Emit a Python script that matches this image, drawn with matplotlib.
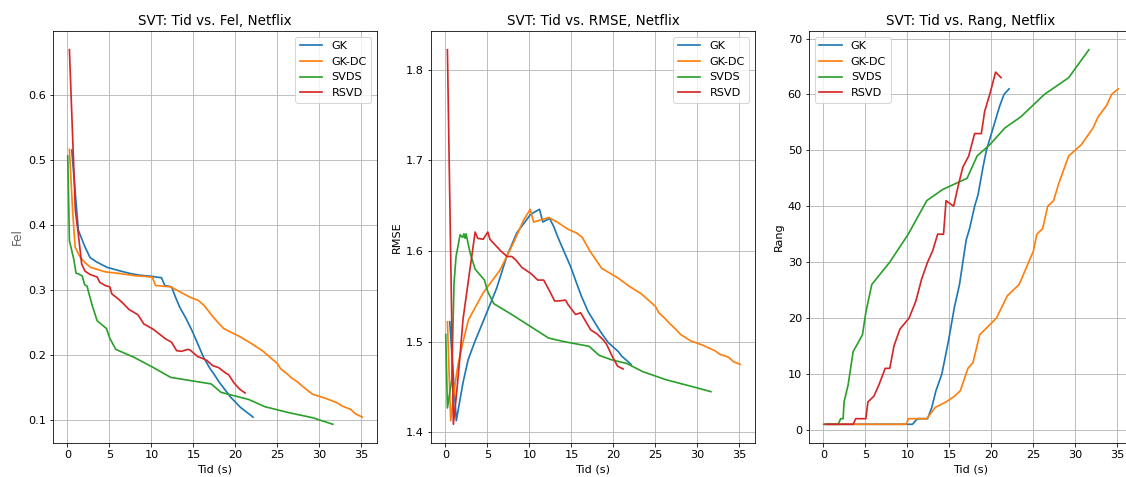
import matplotlib
matplotlib.use("Agg")
import matplotlib.pyplot as plt

# ---- GK ----
gk_t = [0.52, 1.3, 2.1, 2.7, 3.5, 4.7, 6.1, 7.3, 8.5, 10.1, 10.6, 11.2, 11.6, 12.4, 12.9,
        13.4, 14.1, 14.9, 15.6, 16.2, 17.0, 17.4, 18.0, 18.4, 19.0, 19.4, 20.0, 20.6, 21.0,
        21.5, 22.1]
gk_fel = [0.515, 0.392, 0.366, 0.350, 0.343, 0.335, 0.330, 0.326, 0.323, 0.321, 0.320, 0.319,
          0.307, 0.305, 0.288, 0.273, 0.257, 0.236, 0.215, 0.197, 0.179, 0.172, 0.160, 0.153,
          0.143, 0.136, 0.128, 0.120, 0.116, 0.111, 0.105]
gk_rmse = [1.522, 1.413, 1.455, 1.480, 1.500, 1.527, 1.559, 1.594, 1.620, 1.640, 1.643, 1.646,
           1.632, 1.636, 1.627, 1.615, 1.600, 1.583, 1.565, 1.550, 1.533, 1.527, 1.518, 1.512,
           1.504, 1.499, 1.494, 1.489, 1.484, 1.480, 1.475]
gk_rang = [1, 1, 1, 1, 1, 1, 1, 1, 1, 1, 1, 2, 2, 2, 4, 7, 10, 16, 22, 26, 34, 36, 40, 42,
           47, 50, 53, 56, 58, 60, 61]

# ---- GK-DC ----
gkdc_t = [0.24, 0.63, 0.92, 1.3, 1.55, 2.1, 2.74, 4.5, 6.5, 8.1, 9.3, 9.9, 10.1, 10.5, 12.3,
          13.3, 14.6, 15.6, 16.3, 17.2, 17.8, 18.6, 20.6, 21.9, 23.3, 25.0, 25.4, 26.1, 26.7,
          27.4, 28.0, 29.2, 30.7, 32.1, 32.7, 33.7, 34.3, 35.1]
gkdc_fel = [0.516, 0.420, 0.366, 0.356, 0.350, 0.342, 0.335, 0.328, 0.325, 0.322, 0.321, 0.320,
            0.320, 0.307, 0.305, 0.298, 0.289, 0.284, 0.276, 0.261, 0.252, 0.241, 0.228, 0.218,
            0.206, 0.187, 0.179, 0.172, 0.165, 0.159, 0.152, 0.140, 0.134, 0.127, 0.122, 0.117,
            0.110, 0.105]
gkdc_rmse = [1.522, 1.413, 1.435, 1.463, 1.477, 1.500, 1.524, 1.554, 1.579, 1.609, 1.634, 1.643,
             1.646, 1.632, 1.637, 1.632, 1.624, 1.620, 1.615, 1.600, 1.592, 1.581, 1.570, 1.561,
             1.553, 1.539, 1.532, 1.526, 1.520, 1.514, 1.508, 1.501, 1.496, 1.490, 1.486, 1.483,
             1.478, 1.475]
gkdc_rang = [1, 1, 1, 1, 1, 1, 1, 1, 1, 1, 1, 1, 2, 2, 2, 4, 5, 6, 7, 11, 12, 17, 20, 24, 26,
             32, 35, 36, 40, 41, 44, 49, 51, 54, 56, 58, 60, 61]

# ---- SVDS ----
svds_t = [0.04, 0.24, 0.75, 1.03, 1.27, 1.75, 2.06, 2.2, 2.35, 2.46, 2.94, 3.54, 4.65, 5.05,
          5.76, 7.9, 10.1, 12.3, 14.2, 17.1, 18.3, 19.8, 21.6, 23.5, 26.3, 29.2, 31.6]
svds_fel = [0.506, 0.376, 0.348, 0.326, 0.325, 0.322, 0.308, 0.307, 0.306, 0.300, 0.277, 0.253,
            0.241, 0.226, 0.209, 0.197, 0.182, 0.166, 0.162, 0.156, 0.143, 0.138, 0.132, 0.121,
            0.112, 0.104, 0.094]
svds_rmse = [1.508, 1.427, 1.458, 1.565, 1.594, 1.618, 1.615, 1.619, 1.614, 1.619, 1.598, 1.580,
             1.568, 1.555, 1.542, 1.530, 1.517, 1.504, 1.500, 1.495, 1.485, 1.480, 1.476, 1.467,
             1.458, 1.451, 1.445]
svds_rang = [1, 1, 1, 1, 1, 1, 2, 2, 2, 5, 8, 14, 17, 21, 26, 30, 35, 41, 43, 45, 49, 51, 54,
             56, 60, 63, 68]

# ---- RSVD ----
rsvd_t = [0.24, 0.95, 1.3, 1.7, 2.1, 2.7, 3.54, 3.85, 4.5, 5.05, 5.3, 6.0, 6.6, 7.35, 7.9, 8.4,
          9.1, 10.2, 11.0, 11.7, 12.4, 13.0, 13.6, 14.3, 14.6, 15.5, 16.1, 16.6, 17.3, 18.0,
          18.8, 19.2, 19.8, 20.5, 21.15]
rsvd_fel = [0.669, 0.422, 0.386, 0.340, 0.329, 0.324, 0.320, 0.312, 0.307, 0.305, 0.294, 0.287,
            0.280, 0.270, 0.266, 0.262, 0.248, 0.240, 0.232, 0.225, 0.220, 0.207, 0.206, 0.209,
            0.208, 0.198, 0.195, 0.192, 0.184, 0.181, 0.173, 0.170, 0.158, 0.148, 0.142]
rsvd_rmse = [1.822, 1.409, 1.440, 1.480, 1.525, 1.565, 1.621, 1.614, 1.613, 1.621, 1.613, 1.606,
             1.600, 1.594, 1.594, 1.590, 1.582, 1.575, 1.568, 1.568, 1.556, 1.545, 1.545, 1.546,
             1.541, 1.530, 1.532, 1.524, 1.513, 1.509, 1.502, 1.497, 1.485, 1.473, 1.470]
rsvd_rang = [1, 1, 1, 1, 1, 1, 1, 2, 2, 2, 5, 6, 8, 11, 11, 15, 18, 20, 23, 27, 30, 32, 35, 35,
             41, 40, 44, 47, 49, 53, 53, 57, 60, 64, 63]

labels = ["GK", "GK-DC", "SVDS", "RSVD"]
times = [gk_t, gkdc_t, svds_t, rsvd_t]
fel = [gk_fel, gkdc_fel, svds_fel, rsvd_fel]
rmse = [gk_rmse, gkdc_rmse, svds_rmse, rsvd_rmse]
rang = [gk_rang, gkdc_rang, svds_rang, rsvd_rang]

plt.rcParams["font.size"] = 11.3

W, H, DPI = 1126, 477, 72
fig = plt.figure(figsize=(W / DPI, H / DPI), dpi=DPI)

def px_axes(left, right, top=31, bottom=443):
    return fig.add_axes([left / W, (H - bottom) / H, (right - left) / W, (bottom - top) / H])

ax1 = px_axes(53, 377)
ax2 = px_axes(431, 755)
ax3 = px_axes(809, 1133)

panels = [
    (ax1, fel, "SVT: Tid vs. Fel, Netflix", "upper right"),
    (ax2, rmse, "SVT: Tid vs. RMSE, Netflix", "upper right"),
    (ax3, rang, "SVT: Tid vs. Rang, Netflix", "upper left"),
]

for ax, series, title, loc in panels:
    for t, y, lab in zip(times, series, labels):
        ax.plot(t, y, label=lab, linewidth=1.7)
    ax.set_title(title)
    ax.set_xlabel("Tid (s)")
    ax.grid(True)
    ax.legend(loc=loc)
    ax.set_xticks([0, 5, 10, 15, 20, 25, 30, 35])

ax1.set_ylabel("Fel", fontsize=12, color="#666666")
ax2.set_ylabel("RMSE")
ax3.set_ylabel("Rang")

fig.savefig("out.png", dpi=DPI)
